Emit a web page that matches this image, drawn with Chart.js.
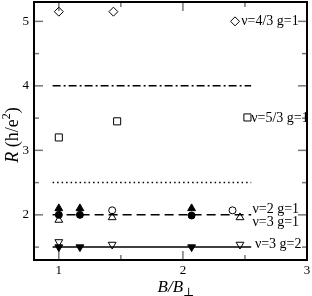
<!DOCTYPE html>
<html>
<head>
<meta charset="utf-8">
<script src="https://cdn.jsdelivr.net/npm/chart.js@4.4.0/dist/chart.umd.min.js"></script>
<style>
  body { margin: 0; background: #fff; }
</style>
</head>
<body>
<canvas id="rChart" width="312" height="296"></canvas>
<script>
// axis ticks
var xMajor = [1, 2, 3];
var xMinor = [1.5, 2.5];
var yMajor = [2, 3, 4, 5];
var yMinor = [1.5, 2.5, 3.5, 4.5];

// measured points, [B/Bperp, R]
var diamonds = [[1.0, 5.15], [1.44, 5.15], [2.42, 5.0]];
var squares = [[1.0, 3.2], [1.47, 3.45], [2.52, 3.51]];
var triUpFilled = [[1.0, 2.1], [1.17, 2.1], [2.07, 2.1]];
var circFilled = [[1.0, 2.0], [1.17, 2.0], [2.07, 1.99]];
var circOpen = [[1.43, 2.07], [2.4, 2.07]];
var triUpOpen = [[1.0, 1.92], [1.43, 1.96], [2.46, 1.96]];
var triDownOpen = [[1.0, 1.58], [1.43, 1.54], [2.46, 1.54]];
var triDownFilled = [[1.0, 1.5], [1.17, 1.5], [2.07, 1.5]];

// plateau levels
var levels = [4, 2.5, 2, 1.5];
var levelDash = [[8, 3, 2, 3], [1.5, 3], [9, 5], []];
var levelSpan = [0.95, 2.55];

// state labels
var stateText = ["ν=4/3 g=1", "ν=5/3 g=1", "ν=2 g=1", "ν=3 g=1", "ν=3 g=2"];
var stateAt = [[2.47, 5.0], [2.55, 3.5], [2.56, 2.08], [2.56, 1.88], [2.58, 1.54]];

var serif = "'Liberation Serif', 'DejaVu Serif', serif";

function pts(arr) {
  return arr.map(function (p) { return { x: p[0], y: p[1] }; });
}

function marker(arr, style, radius, filled, rotation) {
  return {
    data: pts(arr),
    pointStyle: style,
    pointRadius: radius,
    pointRotation: rotation || 0,
    pointBorderWidth: 1,
    pointBorderColor: "#000",
    pointBackgroundColor: filled ? "#000" : "rgba(0,0,0,0)",
    showLine: false,
  };
}

var datasets = [
  marker(diamonds, "rectRot", 4.5, false),
  marker(squares, "rect", 5, false),
  marker(triUpFilled, "triangle", 4.5, true),
  marker(circFilled, "circle", 3.5, true),
  marker(circOpen, "circle", 3.5, false),
  marker(triUpOpen, "triangle", 4.5, false),
  marker(triDownOpen, "triangle", 4.5, false, 180),
  marker(triDownFilled, "triangle", 4.5, true, 180),
];

levels.forEach(function (lv, i) {
  datasets.push({
    data: [{ x: levelSpan[0], y: lv }, { x: levelSpan[1], y: lv }],
    showLine: true,
    borderColor: "#000",
    borderWidth: 1.5,
    borderDash: levelDash[i],
    pointRadius: 0,
  });
});

function seg(ctx, x1, y1, x2, y2) {
  ctx.beginPath();
  ctx.moveTo(x1, y1);
  ctx.lineTo(x2, y2);
  ctx.stroke();
}

// drop the label overhang chart.js reserves around the scales
function noPad(s) {
  s.paddingTop = s.paddingBottom = s.paddingLeft = s.paddingRight = 0;
  if (s._margins) {
    s._margins.top = s._margins.bottom = s._margins.left = s._margins.right = 0;
  }
}

var frame = {
  id: "frame",
  beforeDatasetsDraw: function (chart) {
    var ctx = chart.ctx, a = chart.chartArea;
    var sx = chart.scales.x, sy = chart.scales.y;
    ctx.save();
    ctx.strokeStyle = "#777";
    ctx.lineWidth = 1.5;
    function tx(v, len) {
      var p = sx.getPixelForValue(v);
      seg(ctx, p, a.bottom, p, a.bottom - len);
      seg(ctx, p, a.top, p, a.top + len);
    }
    function ty(v, len) {
      var p = sy.getPixelForValue(v);
      seg(ctx, a.left, p, a.left + len, p);
      seg(ctx, a.right, p, a.right - len, p);
    }
    xMajor.forEach(function (v) { tx(v, 9); });
    xMinor.forEach(function (v) { tx(v, 5); });
    yMajor.forEach(function (v) { ty(v, 9); });
    yMinor.forEach(function (v) { ty(v, 5); });
    ctx.restore();
  },
  afterDraw: function (chart) {
    var ctx = chart.ctx, a = chart.chartArea;
    var sx = chart.scales.x, sy = chart.scales.y;
    ctx.save();
    ctx.strokeStyle = "#000";
    ctx.lineWidth = 2;
    ctx.strokeRect(a.left, a.top, a.right - a.left, a.bottom - a.top);

    // state labels
    ctx.fillStyle = "#000";
    ctx.font = "14px " + serif;
    ctx.textBaseline = "middle";
    ctx.textAlign = "left";
    stateText.forEach(function (t, i) {
      ctx.fillText(t, sx.getPixelForValue(stateAt[i][0]), sy.getPixelForValue(stateAt[i][1]));
    });

    // y title: R (h/e^2)
    ctx.textBaseline = "alphabetic";
    var big = "18px " + serif, ital = "italic 18px " + serif, small = "12px " + serif;
    var parts = [[ital, "R", 0], [big, " (h/e", 0], [small, "2", -8], [big, ")", 0]];
    var w = 0;
    parts.forEach(function (p) { ctx.font = p[0]; w += ctx.measureText(p[1]).width; });
    ctx.save();
    ctx.translate(18, 135);
    ctx.rotate(-Math.PI / 2);
    var cx = -w / 2;
    parts.forEach(function (p) {
      ctx.font = p[0];
      ctx.fillText(p[1], cx, p[2]);
      cx += ctx.measureText(p[1]).width;
    });
    ctx.restore();

    // x title: B/B_perp
    ital = "italic 17px " + serif;
    ctx.font = ital;
    var w1 = ctx.measureText("B/B").width;
    ctx.font = "12px " + serif;
    var w2 = ctx.measureText("⊥").width;
    var x0 = 176 - (w1 + w2) / 2;
    ctx.font = ital;
    ctx.fillText("B/B", x0, 292);
    ctx.font = "12px " + serif;
    ctx.fillText("⊥", x0 + w1, 296);
    ctx.restore();
  },
};

var tickFont = { family: serif, size: 13 };

new Chart(document.getElementById("rChart").getContext("2d"), {
  type: "scatter",
  data: { datasets: datasets },
  plugins: [frame],
  options: {
    responsive: false,
    animation: false,
    layout: { autoPadding: false, padding: { top: 2, right: 5, left: 0, bottom: 0 } },
    plugins: {
      legend: { display: false },
      tooltip: { enabled: false },
    },
    scales: {
      x: {
        type: "linear",
        min: 0.8,
        max: 3,
        grid: { display: false, drawTicks: false },
        border: { display: false },
        afterBuildTicks: function (s) {
          s.ticks = xMajor.map(function (v) { return { value: v }; });
        },
        afterFit: function (s) {
          s.height = 36;
          noPad(s);
        },
        ticks: { color: "#000", font: tickFont, padding: 3, maxRotation: 0, autoSkip: false },
      },
      y: {
        type: "linear",
        min: 1.3,
        max: 5.3,
        grid: { display: false, drawTicks: false },
        border: { display: false },
        afterBuildTicks: function (s) {
          s.ticks = yMajor.map(function (v) { return { value: v }; });
        },
        afterFit: function (s) {
          s.width = 34;
          noPad(s);
        },
        ticks: { color: "#000", font: tickFont, padding: 5, autoSkip: false },
      },
    },
  },
});
</script>
</body>
</html>
